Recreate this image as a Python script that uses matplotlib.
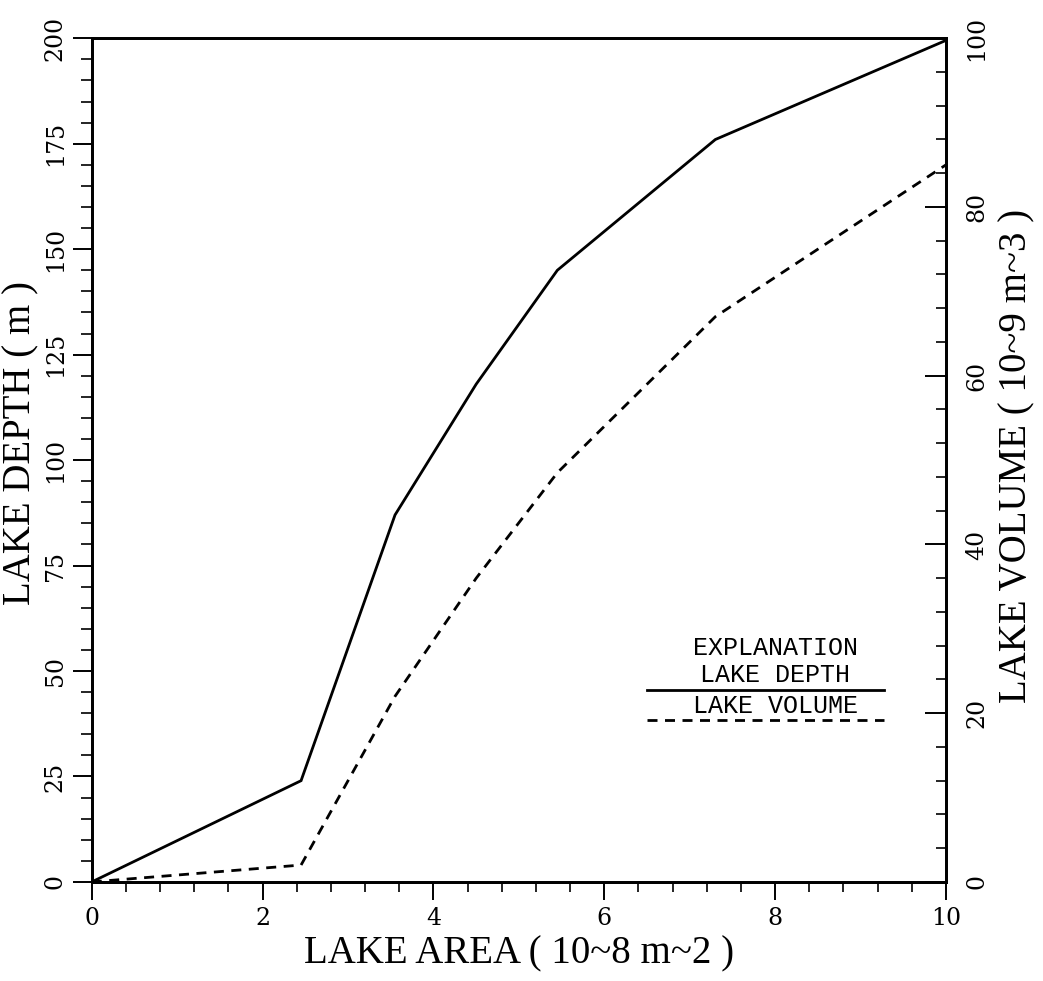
import matplotlib
matplotlib.use("Agg")
import matplotlib.pyplot as plt
from matplotlib.ticker import MultipleLocator

# Data
area_depth = [0.0, 2.45, 3.55, 4.5, 5.45, 7.3, 10.0]
depth_m = [0.0, 24.0, 87.0, 118.0, 145.0, 176.0, 199.5]
area_vol = [0.0, 2.45, 3.55, 4.5, 5.45, 7.3, 10.0]
volume = [0.0, 2.0, 22.0, 36.0, 48.5, 67.0, 85.0]

x_ticks = [0, 2, 4, 6, 8, 10]
depth_ticks = [0, 25, 50, 75, 100, 125, 150, 175, 200]
vol_ticks = [0, 20, 40, 60, 80, 100]

serif = "Liberation Serif"
tickfont = "DejaVu Serif"
mono = "Liberation Mono"
dash = (0, (3.6, 2.7))

fig = plt.figure(figsize=(10.43, 9.81), dpi=100)
ax = fig.add_axes([0.088, 0.101, 0.819, 0.860])
ax2 = ax.twinx()

ax.plot(area_depth, depth_m, color="black", lw=2.0, solid_joinstyle="miter")
ax2.plot(area_vol, volume, color="black", lw=2.0, linestyle=dash)

ax.set_xlim(0, 10)
ax.set_ylim(0, 200)
ax2.set_ylim(0, 100)

ax.set_xticks(x_ticks)
ax.set_yticks(depth_ticks)
ax2.set_yticks(vol_ticks)
ax.xaxis.set_minor_locator(MultipleLocator(0.4))
ax.yaxis.set_minor_locator(MultipleLocator(5))
ax2.yaxis.set_minor_locator(MultipleLocator(4))

for a in (ax, ax2):
    for s in a.spines.values():
        s.set_linewidth(2.0)

ax.tick_params(axis="x", which="major", direction="out", length=13, width=1.4,
               top=False, labelsize=17, pad=5)
ax.tick_params(axis="x", which="minor", direction="out", length=7, width=1.2, top=False)
ax.tick_params(axis="y", which="major", direction="out", length=14, width=1.4,
               right=False, labelsize=17, pad=4)
ax.tick_params(axis="y", which="minor", direction="out", length=8, width=1.2, right=False)
ax2.tick_params(axis="y", which="major", direction="in", length=15, width=1.4,
                labelsize=17, pad=14)
ax2.tick_params(axis="y", which="minor", direction="in", length=7, width=1.2)

ax.set_xticklabels([str(v) for v in x_ticks], family=tickfont)
ax.set_yticklabels([str(v) for v in depth_ticks], family=tickfont, rotation=90, va="center")
ax2.set_yticklabels([str(v) for v in vol_ticks], family=tickfont, rotation=90, va="center")

ax.set_xlabel("LAKE AREA ( 10~8 m~2 )", family=serif, fontsize=28, labelpad=4)
ax.set_ylabel("LAKE DEPTH ( m )", family=serif, fontsize=28)
ax2.set_ylabel("LAKE VOLUME ( 10~9 m~3 )", family=serif, fontsize=28, rotation=90)
ax.yaxis.set_label_coords(-0.061, 0.52)
ax2.yaxis.set_label_coords(1.061, 0.505)

# Explanation (legend) block
tr = ax.transAxes
ax.text(0.80, 0.277, "EXPLANATION", transform=tr, family=mono, fontsize=18,
        ha="center", va="center")
ax.text(0.80, 0.245, "LAKE DEPTH", transform=tr, family=mono, fontsize=18,
        ha="center", va="center")
ax.plot([0.65, 0.927], [0.228, 0.228], transform=tr, color="black", lw=2.0)
ax.text(0.80, 0.208, "LAKE VOLUME", transform=tr, family=mono, fontsize=18,
        ha="center", va="center")
ax.plot([0.65, 0.927], [0.192, 0.192], transform=tr, color="black", lw=2.0,
        linestyle=dash)

fig.savefig("out.png", dpi=100)
